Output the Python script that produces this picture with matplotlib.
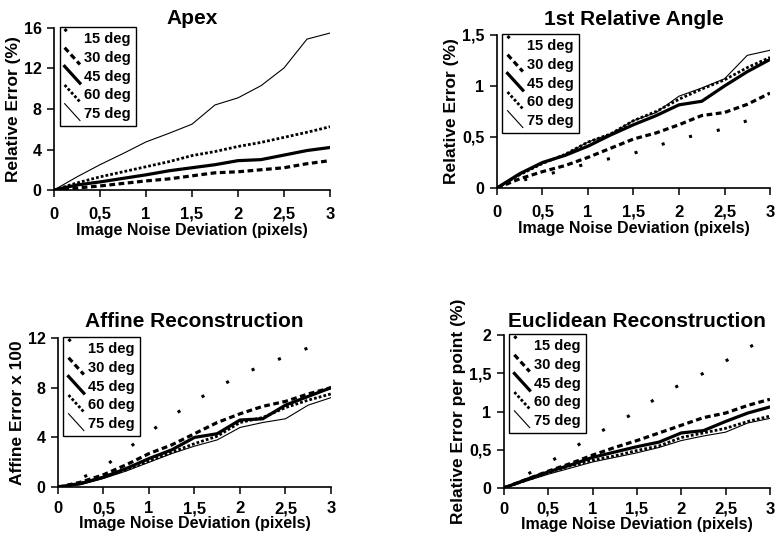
import matplotlib
matplotlib.use('Agg')
import matplotlib.pyplot as plt
import numpy as np
from matplotlib.lines import Line2D
from matplotlib.legend_handler import HandlerLine2D

plt.rcParams['font.family'] = ['Liberation Sans', 'DejaVu Sans']
plt.rcParams['font.weight'] = 'bold'

nan = np.nan

# x values: image noise deviation (pixels)
noise = [0, 0.25, 0.5, 0.75, 1, 1.25, 1.5, 1.75, 2, 2.25, 2.5, 2.75, 3]
angles = ['15 deg', '30 deg', '45 deg', '60 deg', '75 deg']

# Apex (relative error %) - 15 deg not visible in the plot range
apex_15 = [nan] * 13
apex_30 = [0, 0.2, 0.4, 0.65, 0.9, 1.1, 1.4, 1.7, 1.8, 2.0, 2.2, 2.6, 2.9]
apex_45 = [0, 0.5, 0.8, 1.15, 1.5, 1.9, 2.2, 2.5, 2.9, 3.0, 3.45, 3.9, 4.2]
apex_60 = [0, 0.7, 1.3, 1.8, 2.3, 2.8, 3.4, 3.8, 4.3, 4.7, 5.2, 5.7, 6.25]
apex_75 = [0, 1.3, 2.5, 3.6, 4.75, 5.6, 6.5, 8.4, 9.1, 10.3, 12.05, 14.9, 15.5]

# 1st relative angle (relative error %)
angle_15 = [0, 0.07, 0.12, 0.18, 0.24, 0.29, 0.34, 0.41, 0.48, 0.53, 0.58, 0.66, 0.72]
angle_30 = [0, 0.09, 0.16, 0.22, 0.30, 0.39, 0.48, 0.54, 0.62, 0.71, 0.74, 0.82, 0.93]
angle_45 = [0, 0.14, 0.25, 0.32, 0.41, 0.52, 0.62, 0.71, 0.815, 0.85, 1.0, 1.14, 1.26]
angle_60 = [0, 0.13, 0.24, 0.33, 0.45, 0.53, 0.66, 0.75, 0.87, 0.97, 1.06, 1.18, 1.28]
angle_75 = [0, 0.13, 0.24, 0.33, 0.45, 0.53, 0.66, 0.74, 0.90, 0.98, 1.07, 1.30, 1.35]

# Affine reconstruction (error x 100)
affine_15 = [0, 0.7, 1.6, 3.0, 4.4, 5.7, 6.9, 8.0, 9.0, 9.8, 10.5, 11.2, 11.9]
affine_30 = [0, 0.4, 1.0, 1.8, 2.7, 3.4, 4.3, 5.2, 5.9, 6.5, 6.9, 7.5, 8.0]
affine_45 = [0, 0.3, 0.8, 1.5, 2.3, 3.0, 4.0, 4.3, 5.4, 5.5, 6.6, 7.3, 8.0]
affine_60 = [0, 0.3, 0.8, 1.4, 2.1, 2.8, 3.5, 4.1, 5.2, 5.6, 6.4, 7.0, 7.5]
affine_75 = [0, 0.2, 0.7, 1.3, 2.0, 2.7, 3.3, 3.8, 4.8, 5.2, 5.5, 6.6, 7.2]

# Euclidean reconstruction (relative error per point %)
eucl_15 = [0, 0.17, 0.33, 0.50, 0.68, 0.84, 1.00, 1.20, 1.36, 1.50, 1.66, 1.83, 1.99]
eucl_30 = [0, 0.11, 0.22, 0.32, 0.43, 0.53, 0.62, 0.72, 0.82, 0.92, 0.98, 1.08, 1.16]
eucl_45 = [0, 0.11, 0.21, 0.30, 0.40, 0.47, 0.54, 0.60, 0.72, 0.75, 0.87, 0.98, 1.06]
eucl_60 = [0, 0.10, 0.20, 0.29, 0.36, 0.42, 0.49, 0.55, 0.66, 0.72, 0.78, 0.87, 0.94]
eucl_75 = [0, 0.09, 0.18, 0.26, 0.34, 0.40, 0.46, 0.53, 0.62, 0.68, 0.73, 0.85, 0.91]

x_ticks = [0, 0.5, 1, 1.5, 2, 2.5, 3]
x_ticklabels = ['0', '0,5', '1', '1,5', '2', '2,5', '3']

styles = [
    dict(color='black', lw=2.2, linestyle=(0, (1, 8.3))),
    dict(color='black', lw=2.3, linestyle=(0, (1.8, 1.1))),
    dict(color='black', lw=2.3, linestyle='-'),
    dict(color='black', lw=2.0, linestyle=(0, (1, 0.75))),
    dict(color='black', lw=0.8, linestyle='-'),
]


class DiagonalHandler(HandlerLine2D):
    def create_artists(self, legend, orig_handle, xdescent, ydescent,
                       width, height, fontsize, trans):
        x0 = -xdescent
        y0 = -ydescent
        line = Line2D([x0, x0 + width], [y0 + height * 1.4, y0 - height * 0.25])
        self.update_prop(line, orig_handle, legend)
        line.set_transform(trans)
        return [line]


panels = [
    dict(rect=[0.0695, 0.6468, 0.3552, 0.3012], title='Apex', pad=3, xpad=7, labelpad=1,
         ylabel='Relative Error (%)', series=[apex_15, apex_30, apex_45, apex_60, apex_75],
         ylim=16, yticks=[0, 4, 8, 12, 16], yticklabels=['0', '4', '8', '12', '16']),
    dict(rect=[0.6396, 0.6506, 0.3514, 0.2844], title='1st Relative Angle', pad=7, xpad=7, labelpad=1,
         ylabel='Relative Error (%)', series=[angle_15, angle_30, angle_45, angle_60, angle_75],
         ylim=1.5, yticks=[0, 0.5, 1, 1.5], yticklabels=['0', '0,5', '1', '1,5']),
    dict(rect=[0.0746, 0.0945, 0.3514, 0.2773], title='Affine Reconstruction', pad=8, xpad=5, labelpad=0,
         ylabel='Affine Error x 100', series=[affine_15, affine_30, affine_45, affine_60, affine_75],
         ylim=12, yticks=[0, 4, 8, 12], yticklabels=['0', '4', '8', '12']),
    dict(rect=[0.6486, 0.0930, 0.3423, 0.2842], title='Euclidean Reconstruction', pad=6, xpad=5, labelpad=0,
         ylabel='Relative Error per point (%)', series=[eucl_15, eucl_30, eucl_45, eucl_60, eucl_75],
         ylim=2, yticks=[0, 0.5, 1, 1.5, 2], yticklabels=['0', '0,5', '1', '1,5', '2']),
]

fig = plt.figure(figsize=(7.77, 5.38), dpi=100)

for p in panels:
    ax = fig.add_axes(p['rect'])
    handles = []
    for vals, st, lab in zip(p['series'], styles, angles):
        ln, = ax.plot(noise, vals, label=lab, **st)
        handles.append(ln)
    ax.set_xlim(0, 3)
    ax.set_ylim(0, p['ylim'])
    ax.set_xticks(x_ticks)
    ax.set_xticklabels(x_ticklabels, fontsize=12, fontweight='bold')
    ax.set_yticks(p['yticks'])
    ax.set_yticklabels(p['yticklabels'], fontsize=11.5, fontweight='bold')
    ax.tick_params(axis='x', length=5, width=1.1, pad=p['xpad'])
    ax.tick_params(axis='y', length=5, width=1.1, pad=4)
    for s in ['top', 'right']:
        ax.spines[s].set_visible(False)
    for s in ['left', 'bottom']:
        ax.spines[s].set_linewidth(1.2)
    ax.set_title(p['title'], fontsize=15, fontweight='bold', pad=p['pad'])
    ax.set_xlabel('Image Noise Deviation (pixels)', fontsize=11.5, fontweight='bold',
                  labelpad=p['labelpad'])
    ax.set_ylabel(p['ylabel'], fontsize=12.5, fontweight='bold', labelpad=2)
    leg = ax.legend(handles=handles, loc='upper left', bbox_to_anchor=(0.02, 1.005),
                    borderaxespad=0, fancybox=False, framealpha=1, edgecolor='black',
                    prop=dict(size=10.5, weight='bold'), handlelength=1.05, handletextpad=0.3,
                    labelspacing=0.32, borderpad=0.35,
                    handler_map={Line2D: DiagonalHandler()})
    leg.get_frame().set_linewidth(1.0)

fig.savefig('out.png', dpi=100)
